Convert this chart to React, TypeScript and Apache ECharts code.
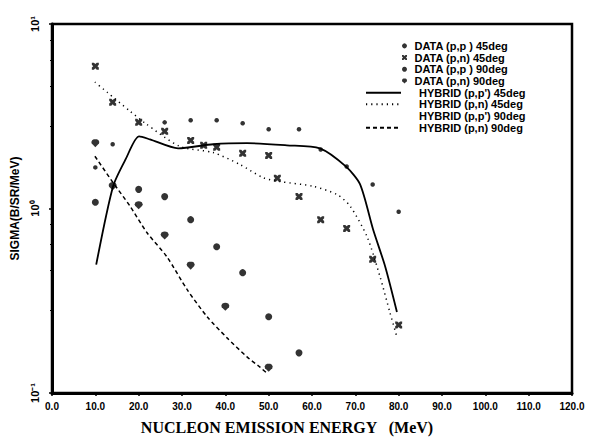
import React, { useEffect, useRef } from 'react';
import * as echarts from 'echarts';

// ---- tick labels ----
const xTickLabels = ['0.0', '10.0', '20.0', '30.0', '40.0', '50.0', '60.0', '70.0', '80.0', '90.0', '100.0', '110.0', '120.0'];
const yTickLabels = ['10⁻¹', '10⁰', '10¹'];

// ---- legend names ----
const dataNames = ['DATA (p,p ) 45deg', 'DATA (p,n) 45deg', 'DATA (p,p ) 90deg', 'DATA (p,n) 90deg'];
const hybridNames = ["HYBRID (p,p') 45deg", 'HYBRID (p,n) 45deg', "HYBRID (p,p') 90deg", 'HYBRID (p,n) 90deg'];

// ---- measured data ----
const ppd45X = [10, 14, 26, 32, 38, 44, 50, 57, 62, 68, 74, 80];
const ppd45Y = [1.67, 2.23, 2.93, 3.01, 3.01, 2.9, 2.69, 2.69, 2.09, 1.69, 1.35, 0.96];

const pnd45X = [10, 14, 20, 26, 32, 35, 38, 44, 50, 52, 57, 62, 68, 74, 80];
const pnd45Y = [5.91, 3.77, 2.93, 2.62, 2.34, 2.2, 2.15, 1.99, 1.94, 1.46, 1.16, 0.87, 0.78, 0.53, 0.234];

const ppd90X = [10, 20, 26, 32, 38, 44, 50, 57];
const ppd90Y = [1.08, 1.27, 1.16, 0.87, 0.62, 0.449, 0.259, 0.165];

const pnd90X = [10, 14, 20, 26, 32, 40, 50];
const pnd90Y = [2.26, 1.32, 1.04, 0.713, 0.49, 0.293, 0.137];

// ---- hybrid model curves ----
const hpp45X = [10.2, 14.1, 17, 20.1, 22.6, 29.1, 37.2, 45, 54.2, 61.8, 67.8, 71.1, 74.1, 76.9, 79.6];
const hpp45Y = [0.496, 1.32, 1.85, 2.46, 2.37, 2.12, 2.23, 2.26, 2.2, 2.12, 1.69, 1.35, 0.769, 0.484, 0.275];

const hpn45X = [9.9, 12.7, 18, 21.5, 29.5, 37.2, 43.4, 48.7, 52.6, 60.2, 65.8, 68.8, 72.7, 75.7, 78, 79.6];
const hpn45Y = [4.84, 4.27, 3.37, 2.9, 2.17, 2.01, 1.73, 1.47, 1.4, 1.32, 1.19, 1.03, 0.704, 0.427, 0.272, 0.201];

const hpp90X: number[] = [];
const hpp90Y: number[] = [];

const hpn90X = [9.9, 14.1, 18, 21.9, 26.5, 31.2, 35.8, 40.4, 45, 48, 49.6];
const hpn90Y = [1.92, 1.38, 1.03, 0.741, 0.548, 0.363, 0.259, 0.199, 0.157, 0.138, 0.128];

const pair = (xs: number[], ys: number[]) => xs.map((x, i) => [x, ys[i]]);

const FONT = 'Liberation Sans';
const X_SYMBOL = 'path://M0,0 L3,0 L5,2 L7,0 L10,0 L10,3 L8,5 L10,7 L10,10 L7,10 L5,8 L3,10 L0,10 L0,7 L2,5 L0,3 Z';
const DROP_SYMBOL = 'path://M0,3.5 L1,1.2 L3,0.1 L5,0 L7,0.1 L9,1.2 L10,3.5 L9.5,5.5 L5,10 L0.5,5.5 Z';

export default function App() {
  const ref = useRef<HTMLDivElement>(null);
  useEffect(() => {
    const chart = echarts.init(ref.current!, null, { renderer: 'svg' });
    const legendText = {
      fontSize: 11,
      fontWeight: 'bold',
      fontFamily: FONT,
      color: '#000',
      lineHeight: 11.7,
    };
    const dataIcons = ['circle', X_SYMBOL, 'circle', DROP_SYMBOL];
    chart.setOption({
      animation: false,
      backgroundColor: '#fff',
      grid: {
        left: 52,
        right: 18,
        top: 24,
        bottom: 47,
        show: true,
        borderColor: '#000',
        borderWidth: 2.5,
        backgroundColor: 'transparent',
      },
      legend: [
        {
          data: dataNames.map((n, i) => ({ name: n, icon: dataIcons[i] })),
          orient: 'vertical',
          left: 397,
          top: 35,
          itemWidth: 10,
          itemHeight: 5,
          itemGap: 0,
          selectedMode: false,
          itemStyle: { color: '#000' },
          textStyle: legendText,
        },
        {
          data: hybridNames.map((n, i) =>
            i === 2 ? { name: n, lineStyle: { opacity: 0 } } : { name: n }
          ),
          orient: 'vertical',
          left: 360,
          top: 81.8,
          itemWidth: 35,
          itemHeight: 8,
          itemGap: 0,
          selectedMode: false,
          itemStyle: { opacity: 0 },
          textStyle: { ...legendText, padding: [0, 0, 0, 13] },
        },
      ],
      xAxis: {
        type: 'value',
        min: 0,
        max: 120,
        interval: 10,
        name: 'NUCLEON EMISSION ENERGY   (MeV)',
        nameLocation: 'middle',
        nameGap: 26,
        nameTextStyle: {
          fontFamily: 'Liberation Serif',
          fontWeight: 'bold',
          fontSize: 16,
          color: '#000',
          padding: [0, 50, 0, 0],
        },
        axisLine: { show: true, lineStyle: { color: '#000', width: 3 } },
        axisTick: { show: true, inside: false, length: 3, lineStyle: { color: '#000', width: 1.5 } },
        splitLine: { show: false },
        axisLabel: {
          margin: 8,
          fontSize: 10,
          fontWeight: 'bold',
          fontFamily: FONT,
          color: '#000',
          formatter: (v: number) => xTickLabels[Math.round(v / 10)] ?? '',
        },
      },
      yAxis: {
        type: 'log',
        logBase: 10,
        min: 0.1,
        max: 10,
        name: 'SIGMA(B/SR/MeV)',
        nameLocation: 'middle',
        nameGap: 30,
        nameTextStyle: { fontFamily: FONT, fontWeight: 'bold', fontSize: 12, color: '#000' },
        axisLine: { show: true, lineStyle: { color: '#000', width: 3 } },
        axisTick: { show: true, length: 3, lineStyle: { color: '#000', width: 1.5 } },
        minorTick: { show: true, splitNumber: 5, length: 2, lineStyle: { color: '#000', width: 1 } },
        splitLine: { show: false },
        axisLabel: {
          rotate: 90,
          margin: 12,
          fontSize: 11,
          fontWeight: 'bold',
          fontFamily: FONT,
          color: '#000',
          formatter: (v: number) => yTickLabels[Math.round(Math.log10(v)) + 1] ?? '',
        },
      },
      series: [
        {
          name: dataNames[0],
          type: 'scatter',
          data: pair(ppd45X, ppd45Y),
          symbol: 'circle',
          symbolSize: 4.5,
          itemStyle: { color: '#000' },
          z: 5,
        },
        {
          name: dataNames[1],
          type: 'scatter',
          data: pair(pnd45X, pnd45Y),
          symbol: X_SYMBOL,
          symbolSize: 7,
          itemStyle: { color: '#000' },
          z: 5,
        },
        {
          name: dataNames[2],
          type: 'scatter',
          data: pair(ppd90X, ppd90Y),
          symbol: 'circle',
          symbolSize: 7,
          itemStyle: { color: '#000' },
          z: 5,
        },
        {
          name: dataNames[3],
          type: 'scatter',
          data: pair(pnd90X, pnd90Y),
          symbol: DROP_SYMBOL,
          symbolSize: 8,
          itemStyle: { color: '#000' },
          z: 5,
        },
        {
          name: hybridNames[0],
          type: 'line',
          data: pair(hpp45X, hpp45Y),
          symbol: 'none',
          smooth: 0.25,
          lineStyle: { color: '#000', width: 1.8, type: 'solid' },
          itemStyle: { color: '#000' },
        },
        {
          name: hybridNames[1],
          type: 'line',
          data: pair(hpn45X, hpn45Y),
          symbol: 'none',
          smooth: 0.25,
          lineStyle: { color: '#000', width: 1.5, type: [1.2, 4] },
          itemStyle: { color: '#000' },
        },
        {
          name: hybridNames[2],
          type: 'line',
          data: pair(hpp90X, hpp90Y),
          symbol: 'none',
          lineStyle: { color: '#000', width: 1.5, opacity: 0 },
          itemStyle: { color: '#000' },
        },
        {
          name: hybridNames[3],
          type: 'line',
          data: pair(hpn90X, hpn90Y),
          symbol: 'none',
          smooth: 0.25,
          lineStyle: { color: '#000', width: 1.5, type: [4, 3] },
          itemStyle: { color: '#000' },
        },
      ],
    });
    return () => chart.dispose();
  }, []);
  return (
    <div
      ref={ref}
      style={{ position: 'absolute', left: 0, top: 0, width: 590, height: 440, background: '#fff' }}
    />
  );
}
